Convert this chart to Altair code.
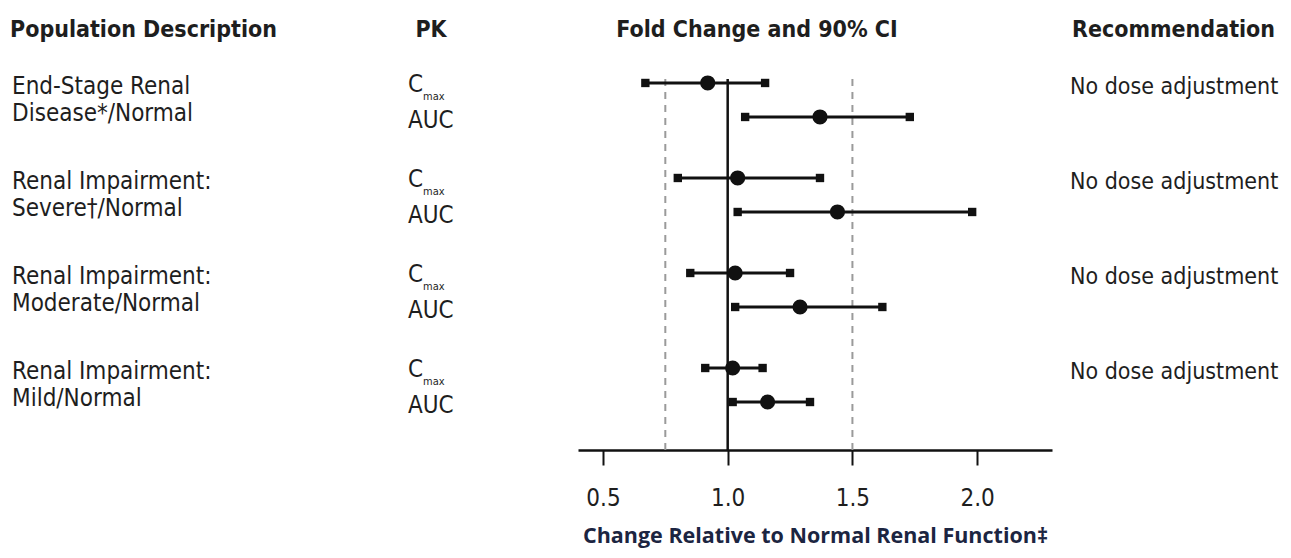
import altair as alt
import pandas as pd

# ---------------- data ----------------
groups = [
    "End-Stage Renal\nDisease*/Normal",
    "Renal Impairment:\nSevere\u2020/Normal",
    "Renal Impairment:\nModerate/Normal",
    "Renal Impairment:\nMild/Normal",
]
recommendations = ["No dose adjustment"] * 4

cmax_est = [0.92, 1.04, 1.03, 1.02]
cmax_lo = [0.67, 0.80, 0.85, 0.91]
cmax_hi = [1.15, 1.37, 1.25, 1.14]

auc_est = [1.37, 1.44, 1.29, 1.16]
auc_lo = [1.07, 1.04, 1.03, 1.02]
auc_hi = [1.73, 1.98, 1.62, 1.33]

x_ticks = [0.5, 1.0, 1.5, 2.0]
ref_dashed = [0.75, 1.5]
ref_solid = [1.0]

# ---------------- layout ----------------
AUC_OFF = 34 / 95          # AUC row offset within a group (in group units)
X0 = 578                   # page x of plot origin
W, H = 474, 442
FONT = "'DejaVu Sans Condensed', 'Liberation Sans Narrow', 'Roboto', sans-serif"
TXT = "#1e1e1e"

rows = []
for i, g in enumerate(groups):
    rows.append(dict(group=g, pk="Cmax", pos=i, est=cmax_est[i], lo=cmax_lo[i], hi=cmax_hi[i]))
    rows.append(dict(group=g, pk="AUC", pos=i + AUC_OFF, est=auc_est[i], lo=auc_lo[i], hi=auc_hi[i]))
df = pd.DataFrame(rows)

gdf = pd.DataFrame({
    "group": groups,
    "rec": recommendations,
    "gpos": [i for i in range(len(groups))],
})
gdf["aucpos"] = gdf["gpos"] + AUC_OFF

xscale = alt.Scale(domain=[0.4, 2.3], nice=False, zero=False)
yscale = alt.Scale(domain=[-0.789, 3.863], reverse=True, nice=False, zero=False)

xaxis = alt.Axis(
    values=x_ticks, format=".1f", grid=False,
    domainColor="#111", domainWidth=2.5, tickColor="#111", tickWidth=2, tickSize=15,
    labelFont=FONT, labelFontSize=24, labelColor=TXT, labelPadding=21,
    title="Change Relative to Normal Renal Function\u2021",
    titleFont="Open Sans", titleFontSize=21.5, titleFontWeight="bold", titleColor="#1c2541",
    titlePadding=15,
)

base = alt.Chart(df)

ci = base.mark_rule(color="#111", strokeWidth=3).encode(
    x=alt.X("lo:Q", scale=xscale, axis=xaxis),
    x2="hi:Q",
    y=alt.Y("pos:Q", scale=yscale, axis=None),
)
cap_lo = base.mark_point(shape="square", filled=True, size=70, color="#111", opacity=1).encode(
    x=alt.X("lo:Q", scale=xscale, axis=xaxis),
    y=alt.Y("pos:Q", scale=yscale, axis=None),
)
cap_hi = base.mark_point(shape="square", filled=True, size=70, color="#111", opacity=1).encode(
    x=alt.X("hi:Q", scale=xscale, axis=xaxis),
    y=alt.Y("pos:Q", scale=yscale, axis=None),
)
pts = base.mark_circle(size=230, color="#111", opacity=1).encode(
    x=alt.X("est:Q", scale=xscale, axis=xaxis),
    y=alt.Y("pos:Q", scale=yscale, axis=None),
)

dashed = alt.Chart(pd.DataFrame({"v": ref_dashed})).mark_rule(
    color="#9a9a9a", strokeWidth=2, strokeDash=[7, 6]
).encode(
    x=alt.X("v:Q", scale=xscale, axis=xaxis),
    y=alt.value(71), y2=alt.value(H),
)
solid = alt.Chart(pd.DataFrame({"v": ref_solid})).mark_rule(
    color="#111", strokeWidth=2.5
).encode(
    x=alt.X("v:Q", scale=xscale, axis=xaxis),
    y=alt.value(71), y2=alt.value(H),
)

gbase = alt.Chart(gdf)
desc = gbase.mark_text(
    align="left", baseline="middle", font=FONT, fontSize=24, color=TXT,
    lineBreak="\n", lineHeight=27, dy=4,
).encode(
    x=alt.value(12 - X0), y=alt.Y("gpos:Q", scale=yscale, axis=None), text="group:N",
)
pk_c = gbase.mark_text(
    align="left", baseline="middle", font=FONT, fontSize=24, color=TXT, dy=2,
).encode(
    x=alt.value(408 - X0), y=alt.Y("gpos:Q", scale=yscale, axis=None), text=alt.value("C"),
)
pk_max = gbase.mark_text(
    align="left", baseline="middle", font=FONT, fontSize=11, color=TXT, dy=14,
).encode(
    x=alt.value(423 - X0), y=alt.Y("gpos:Q", scale=yscale, axis=None), text=alt.value("max"),
)
pk_auc = gbase.mark_text(
    align="left", baseline="middle", font=FONT, fontSize=24, color=TXT, dy=4,
).encode(
    x=alt.value(408 - X0), y=alt.Y("aucpos:Q", scale=yscale, axis=None), text=alt.value("AUC"),
)
rec = gbase.mark_text(
    align="left", baseline="middle", font=FONT, fontSize=23, color=TXT, dy=4,
).encode(
    x=alt.value(1070 - X0), y=alt.Y("gpos:Q", scale=yscale, axis=None), text="rec:N",
)

hdr_df = pd.DataFrame({"h": ["Population Description", "PK", "Fold Change and 90% CI", "Recommendation"]})
def header(label, xpix, align):
    return alt.Chart(hdr_df).transform_filter(alt.datum.h == label).mark_text(
        align=align, baseline="middle", font=FONT, fontSize=23, fontWeight="bold", color=TXT,
    ).encode(x=alt.value(xpix - X0), y=alt.value(22), text="h:N")

headers = [
    header("Population Description", 10, "left"),
    header("PK", 431, "center"),
    header("Fold Change and 90% CI", 757, "center"),
    header("Recommendation", 1072, "left"),
]

chart = alt.layer(
    dashed, solid, ci, cap_lo, cap_hi, pts, desc, pk_c, pk_max, pk_auc, rec, *headers
).properties(
    width=W, height=H,
    autosize=alt.AutoSizeParams(type="none"),
    padding={"left": 570, "top": 0, "right": 231, "bottom": 100},
    background="white",
).configure_view(stroke=None)

chart.save("out.html", embed_options={"renderer": "svg", "actions": False})
